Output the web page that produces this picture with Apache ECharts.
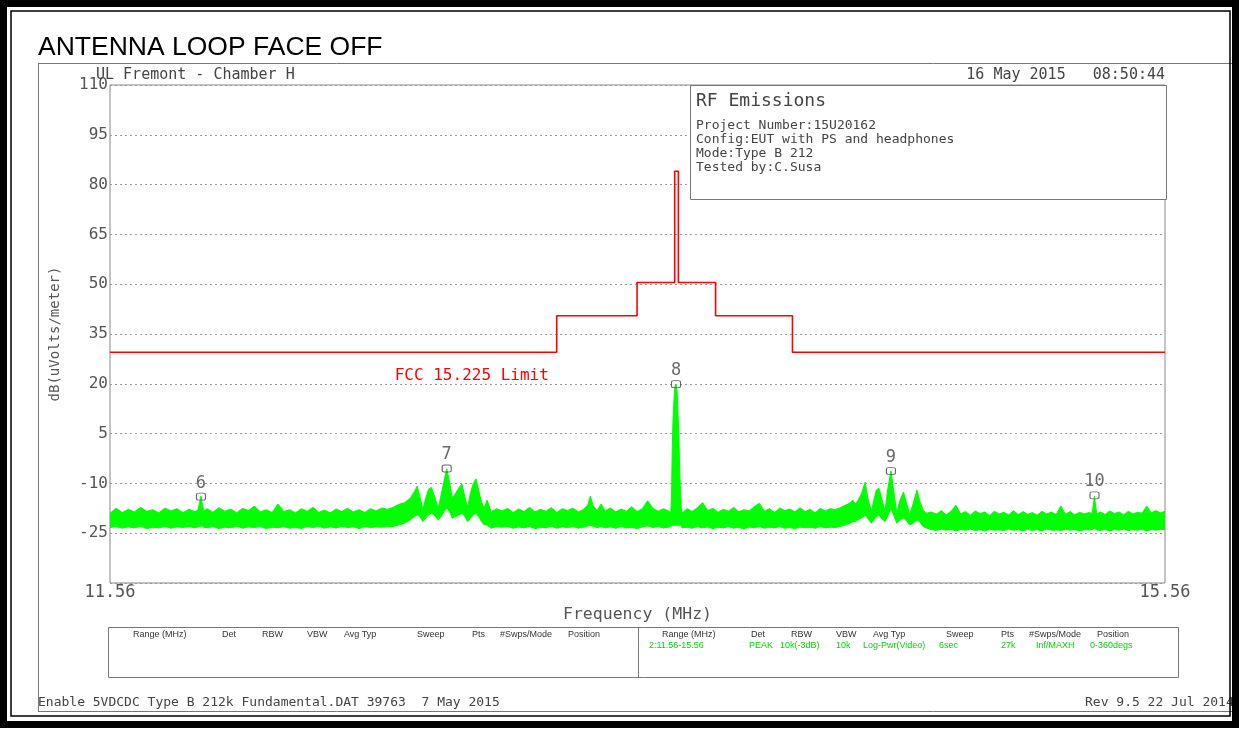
<!DOCTYPE html>
<html><head><meta charset="utf-8">
<script src="https://cdn.jsdelivr.net/npm/echarts@6/dist/echarts.min.js"></script>
<style>html,body{margin:0;padding:0;background:#fff}#c{width:1239px;height:734px}</style>
</head><body><div id="c"></div>
<script>
// ---- data ----
const freqMHz = [
11.56,11.58,11.60,11.62,11.64,11.66,11.68,11.70,11.72,11.74,11.76,11.78,11.80,11.82,11.84,
11.85,11.855,11.86,11.865,11.87,
11.88,11.90,11.92,11.94,11.96,11.98,12.00,12.02,12.04,12.06,12.08,12.10,12.12,12.14,12.16,12.18,12.20,12.22,12.24,12.26,12.28,12.30,12.32,12.34,12.36,12.38,12.40,12.42,12.44,12.46,12.48,12.50,
12.52,12.54,12.56,12.58,12.595,12.605,12.615,12.625,12.635,12.645,12.655,12.665,12.68,12.69,12.70,12.71,12.72,12.73,12.74,12.755,12.765,12.775,12.785,12.795,12.805,12.815,12.825,12.835,12.845,12.855,12.87,12.89,
12.91,12.93,12.95,12.97,12.99,13.01,13.03,13.05,13.07,13.09,13.11,13.13,13.15,13.17,13.19,13.21,
13.225,13.235,13.245,13.26,13.275,13.29,
13.31,13.33,13.35,13.37,13.39,13.41,13.43,
13.44,13.45,
13.47,13.49,13.51,13.53,
13.538,13.541,13.543,13.546,13.550,13.554,13.558,13.562,13.566,13.569,13.572,13.575,13.578,13.581,
13.60,13.62,13.64,13.66,13.68,13.70,13.72,13.74,13.76,13.78,13.80,13.82,13.84,13.86,13.88,13.90,13.92,13.94,13.96,13.98,14.00,14.02,14.04,14.06,14.08,14.10,14.12,14.14,14.16,14.18,
14.20,14.22,14.24,14.25,14.26,14.27,14.285,14.30,14.31,14.325,14.335,14.345,14.355,14.365,14.38,14.39,14.404,14.415,14.428,14.44,14.455,14.465,14.48,14.495,14.51,14.52,14.535,14.55,
14.57,14.59,14.61,14.63,14.65,14.67,14.69,14.71,14.73,14.75,14.77,14.79,14.81,14.83,14.85,14.87,14.89,14.91,14.93,14.95,14.97,14.99,15.01,15.03,15.05,15.07,15.09,15.11,15.13,15.15,15.17,15.19,15.21,15.23,
15.244,15.249,15.254,15.259,15.264,
15.28,15.30,15.32,15.34,15.36,15.38,15.40,15.42,15.44,15.46,15.48,15.50,15.52,15.54,15.56
];
const upperDb = [
-19.0,-17.5,-18.8,-17.8,-18.6,-17.2,-18.4,-17.9,-18.9,-17.4,-18.3,-17.6,-18.8,-17.8,-18.5,
-18.0,-16.0,-13.8,-16.5,-18.4,
-17.6,-18.7,-17.3,-18.4,-17.7,-18.9,-17.5,-18.2,-16.8,-18.6,-17.9,-18.8,-16.2,-18.5,-17.9,-18.9,-17.6,-18.4,-17.2,-18.7,-18.0,-18.9,-17.7,-18.5,-17.5,-18.6,-17.9,-18.8,-17.6,-18.3,-17.4,-17.8,
-17.2,-16.3,-15.8,-14.5,-12.5,-10.8,-14.2,-17.8,-14.5,-11.8,-11.2,-13.5,-17.5,-13.5,-9.5,-5.6,-9.5,-14.5,-13.2,-11.2,-10.2,-14.0,-17.2,-13.0,-10.2,-8.6,-12.0,-15.5,-17.5,-15.0,-18.6,-17.6,
-18.3,-17.5,-18.8,-17.7,-18.5,-17.2,-18.6,-17.8,-18.4,-17.3,-18.8,-17.6,-18.2,-17.4,-18.6,-17.8,
-16.5,-13.8,-16.8,-18.2,-16.2,-18.3,
-17.4,-18.6,-17.7,-18.4,-17.0,-18.5,-17.6,
-16.4,-15.2,
-17.5,-18.4,-17.6,-18.3,
-19.0,-14.0,-2.0,8.0,15.0,19.3,19.8,18.0,10.0,4.0,-6.0,-12.0,-17.0,-19.0,
-17.6,-18.5,-17.3,-15.8,-18.2,-17.5,-18.7,-17.8,-18.4,-17.2,-18.6,-17.9,-18.3,-17.0,-16.0,-18.4,-17.6,-18.8,-17.4,-18.2,-17.7,-18.6,-17.3,-18.5,-17.8,-18.9,-17.5,-18.3,-17.6,-17.9,
-17.3,-16.6,-15.8,-15.0,-16.2,-15.2,-13.2,-9.6,-14.2,-18.5,-15.0,-12.0,-11.4,-14.0,-18.5,-12.3,-6.2,-12.0,-19.0,-15.2,-12.6,-15.2,-19.4,-16.0,-12.0,-15.0,-18.0,-19.0,
-18.6,-19.3,-18.2,-19.5,-18.4,-16.6,-19.2,-18.5,-19.6,-18.3,-19.1,-18.6,-19.7,-18.4,-19.2,-18.7,-19.5,-18.2,-19.4,-18.5,-19.3,-18.8,-19.6,-18.4,-19.2,-18.6,-19.4,-16.8,-19.3,-18.5,-19.5,-18.7,-19.2,-18.8,
-19.0,-16.5,-13.8,-16.8,-19.2,
-18.6,-19.4,-18.3,-19.1,-18.6,-19.5,-18.4,-19.2,-18.7,-19.0,-16.8,-18.9,-18.2,-18.9,-18.4
];
const lowerDb = [
-23.3,-23.0,-23.5,-23.1,-23.4,-22.9,-23.6,-23.2,-23.4,-23.0,-23.5,-23.1,-23.3,-23.0,-23.4,
-23.1,-22.9,-22.8,-22.9,-23.2,
-23.4,-23.0,-23.6,-23.2,-23.4,-22.9,-23.5,-23.1,-23.3,-23.0,-23.6,-23.2,-23.4,-23.0,-23.5,-23.2,-23.6,-23.0,-23.3,-22.9,-23.5,-23.1,-23.4,-23.0,-23.3,-23.1,-23.6,-23.0,-23.3,-23.1,-23.2,-23.0,
-23.0,-22.5,-22.0,-21.0,-20.0,-19.5,-20.0,-21.5,-20.5,-19.5,-19.0,-19.5,-21.0,-20.0,-18.5,-17.5,-18.5,-20.5,-20.0,-19.5,-19.0,-20.0,-21.5,-20.5,-19.5,-19.0,-20.0,-21.5,-22.5,-22.5,-23.5,-23.0,
-23.2,-23.0,-23.5,-23.1,-23.4,-23.0,-23.6,-23.2,-23.4,-22.9,-23.5,-23.1,-23.3,-23.0,-23.5,-23.2,
-22.8,-22.6,-22.9,-23.3,-23.0,-23.4,
-23.1,-23.5,-23.0,-23.4,-23.2,-23.6,-23.1,
-22.9,-22.8,
-23.3,-23.0,-23.4,-23.2,
-23.0,-22.6,-22.6,-22.6,-22.6,-22.6,-22.6,-22.6,-22.6,-22.6,-22.6,-22.6,-23.0,-23.4,
-23.2,-23.5,-23.0,-23.4,-23.1,-23.6,-23.2,-23.4,-23.0,-23.5,-23.2,-23.7,-23.1,-23.4,-23.0,-23.5,-23.2,-23.4,-23.0,-23.5,-23.3,-23.6,-23.1,-23.4,-23.2,-23.5,-23.0,-23.4,-23.2,-23.3,
-23.0,-22.5,-22.0,-21.5,-21.5,-21.0,-20.5,-19.5,-20.5,-22.0,-21.0,-20.0,-19.5,-20.5,-21.5,-20.0,-17.5,-19.5,-22.0,-21.0,-20.5,-21.0,-22.5,-22.0,-21.0,-21.5,-23.0,-23.5,
-23.9,-24.2,-23.7,-24.1,-23.8,-24.3,-23.9,-24.1,-23.7,-24.2,-23.9,-24.3,-23.8,-24.1,-24.0,-24.2,-23.7,-24.1,-23.9,-24.3,-23.8,-24.2,-23.9,-24.3,-23.7,-24.1,-24.0,-24.2,-23.8,-24.1,-23.9,-24.3,-23.9,-24.0,
-23.9,-23.7,-23.5,-23.7,-24.0,
-24.2,-23.8,-24.3,-23.9,-24.1,-23.7,-24.2,-23.9,-24.1,-23.8,-24.3,-23.9,-24.1,-23.8,-24.0
];
const limitFreq = [11.56,13.11,13.11,13.41,13.41,13.553,13.553,13.567,13.567,13.71,13.71,14.01,14.01,15.56];
const limitDb   = [29.5,29.5,40.5,40.5,50.5,50.5,84,84,50.5,50.5,40.5,40.5,29.5,29.5];
const limitLabel = 'FCC 15.225 Limit';
const limitLabelAt = [12.80, 22.35];
const markerNames = ['6','7','8','9','10'];
const markerFreq  = [11.86, 12.71, 13.558, 14.404, 15.254];
const markerDb    = [-14.0, -5.5, 19.9, -6.3, -13.6];
const yTickValues = [-40,-25,-10,5,20,35,50,65,80,95,110];
const xLabelValues = [11.56, 15.56];
const titleText = 'ANTENNA LOOP FACE OFF';
const siteText = 'UL Fremont - Chamber H';
const dateText = '16 May 2015   08:50:44';
const infoTitle = 'RF Emissions';
const infoLines = ['Project Number:15U20162','Config:EUT with PS and headphones','Mode:Type B 212','Tested by:C.Susa'];
const tableHeaders = ['Range (MHz)','Det','RBW','VBW','Avg Typ','Sweep','Pts','#Swps/Mode','Position'];
const tableValues  = ['2:11.56-15.56','PEAK','10k(-3dB)','10k','Log-Pwr(Video)','6sec','27k','Inf/MAXH','0-360degs'];
const footerLeft = 'Enable 5VDCDC Type B 212k Fundamental.DAT 39763  7 May 2015';
const footerRight = 'Rev 9.5 22 Jul 2014';

// ---- build ----
const MONO = "'DejaVu Sans Mono', monospace";
const bandRows = freqMHz.map((f,i)=>[f, lowerDb[i], upperDb[i]]);
const limitData = limitFreq.map((f,i)=>[f, limitDb[i]]);
const markerData = markerFreq.map((f,i)=>({name:markerNames[i], value:[f, markerDb[i]]}));

function renderBand(params, api){
  if (params.dataIndex !== 0) return null;
  const pts = [];
  for (let i=0;i<bandRows.length;i++) pts.push(api.coord([bandRows[i][0], bandRows[i][2]]));
  for (let i=bandRows.length-1;i>=0;i--) pts.push(api.coord([bandRows[i][0], bandRows[i][1]]));
  return {type:'polygon', shape:{points:pts}, style:{fill:'#00ff00', stroke:'#00ff00', lineWidth:1, lineJoin:'miter'}};
}

function txt(x,y,text,font,fill,align){
  return {type:'text', z:60, silent:true, style:{x:x,y:y,text:text,font:font,fill:fill||'#444',
    align:align||'left', verticalAlign:'middle', textAlign:align||'left', textVerticalAlign:'middle'}};
}
function ln(x1,y1,x2,y2,stroke,w){
  return {type:'line', z:60, silent:true, shape:{x1:x1,y1:y1,x2:x2,y2:y2}, style:{stroke:stroke, lineWidth:w}};
}
const hdrX = [133,222,262,307,344,417,472,500,568];
const valX = [649,749,780,836,863,939,1001,1036,1090];
const SMALL = "9px 'Liberation Sans', Arial, sans-serif";
const graphics = [];
graphics.push(ln(38,63.5,1232,63.5,'#777',1));
graphics.push(ln(38.5,63,38.5,711,'#777',1));
graphics.push(ln(38,711.5,1232,711.5,'#777',1));
graphics.push(txt(38,48,titleText,"26.5px 'Liberation Sans', Arial, sans-serif",'#000'));
graphics.push(txt(96,75,siteText,"15px "+MONO,'#444'));
graphics.push(txt(1165,75,dateText,"15px "+MONO,'#444','right'));
graphics.push({type:'rect', z:55, silent:true, shape:{x:690.5,y:85.5,width:476,height:114}, style:{fill:'#fff',stroke:'#777',lineWidth:1}});
graphics.push(txt(696,101,infoTitle,"18px "+MONO,'#444'));
infoLines.forEach((t,i)=>graphics.push(txt(696,126+14*i,t,"13px "+MONO,'#444')));
graphics.push({type:'rect', z:55, silent:true, shape:{x:108.5,y:627.5,width:1070,height:50}, style:{fill:'#fff',stroke:'#777',lineWidth:1}});
graphics.push(ln(638.5,627.5,638.5,677.5,'#777',1));
tableHeaders.forEach((t,i)=>{
  graphics.push(txt(hdrX[i],635,t,SMALL,'#333'));
  graphics.push(txt(hdrX[i]+529,635,t,SMALL,'#333'));
  graphics.push(txt(valX[i],646,tableValues[i],SMALL,'#00d800'));
});
graphics.push(txt(38,703,footerLeft,"13px "+MONO,'#444'));
graphics.push(txt(1085,703,footerRight,"13px "+MONO,'#444'));
graphics.push({type:'rect', z:90, silent:true, shape:{x:3.5,y:3.5,width:1232,height:721}, style:{fill:'none',stroke:'#000',lineWidth:7}});
graphics.push({type:'rect', z:90, silent:true, shape:{x:11,y:11,width:1219,height:705}, style:{fill:'none',stroke:'#000',lineWidth:1.5}});

const chart = echarts.init(document.getElementById('c'));
chart.setOption({
  animation:false,
  backgroundColor:'#fff',
  grid:{left:110,right:74,top:85,bottom:151,show:true,borderColor:'#888',borderWidth:1,containLabel:false,outerBoundsMode:'none'},
  xAxis:{type:'log',logBase:10,min:11.56,max:15.56,
    axisLine:{show:false},axisTick:{show:false},splitLine:{show:false},minorTick:{show:false},minorSplitLine:{show:false},
    axisLabel:{customValues:xLabelValues,formatter:v=>Number(v).toFixed(2),color:'#555',fontFamily:MONO,fontSize:17,margin:1,showMinLabel:true,showMaxLabel:true},
    name:'Frequency (MHz)',nameLocation:'middle',nameGap:18,nameTextStyle:{color:'#555',fontFamily:MONO,fontSize:16.5}},
  yAxis:{type:'value',min:-40,max:110,interval:15,
    axisLine:{show:false},axisTick:{show:false,customValues:yTickValues},
    splitLine:{show:true,lineStyle:{color:'#999',type:[2,3],width:1}},
    axisLabel:{customValues:yTickValues,formatter:v=>(v===-40?'':String(v)),color:'#555',fontFamily:MONO,fontSize:16,margin:2,padding:[3,0,0,0]},
    name:'dB(uVolts/meter)',nameLocation:'middle',nameRotate:90,nameGap:48,nameTextStyle:{color:'#555',fontFamily:MONO,fontSize:14}},
  series:[
    {type:'custom',name:'noise',data:bandRows,encode:{x:0,y:[1,2]},renderItem:renderBand,clip:true,silent:true,z:3},
    {type:'line',name:'limit',data:limitData,symbol:'none',silent:true,lineStyle:{color:'#ff0000',width:1.6},z:4,
      markPoint:{symbol:'circle',symbolSize:0,silent:true,
        label:{show:true,position:'inside',formatter:limitLabel,color:'#ff0000',fontFamily:MONO,fontSize:16},
        data:[{coord:limitLabelAt}]}},
    {type:'scatter',name:'markers',data:markerData,symbol:'roundRect',symbolSize:[9,7],silent:true,z:6,
      itemStyle:{color:'rgba(0,0,0,0)',borderColor:'#444',borderWidth:1},
      label:{show:true,position:'top',distance:1,formatter:'{b}',color:'#444',fontFamily:MONO,fontSize:17}}
  ],
  graphic:graphics
});
</script></body></html>
